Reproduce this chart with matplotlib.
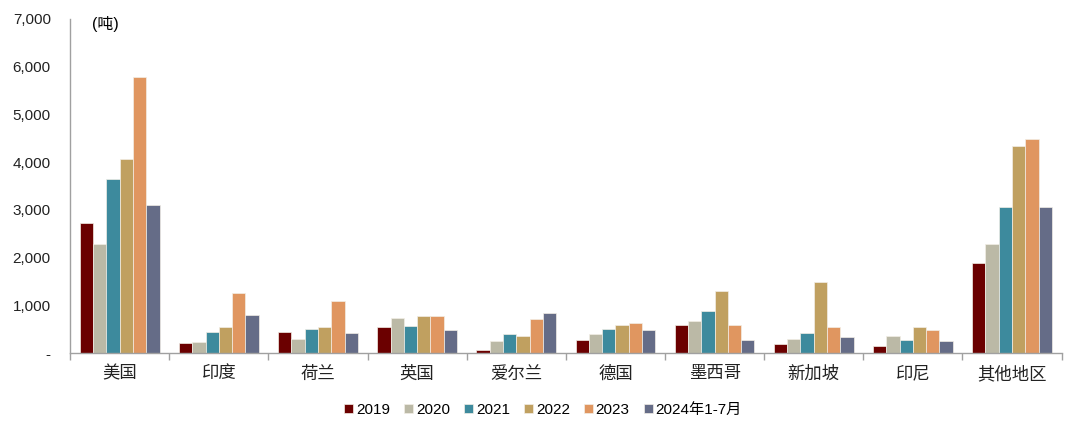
import numpy as np
import matplotlib.pyplot as plt
from matplotlib.ticker import FuncFormatter

plt.rcParams['font.family'] = ['Liberation Sans', 'Noto Sans CJK SC', 'DejaVu Sans']

# 类别与数据（吨）
regions = ['美国', '印度', '荷兰', '英国', '爱尔兰', '德国', '墨西哥', '新加坡', '印尼', '其他地区']
series_names = ['2019', '2020', '2021', '2022', '2023', '2024年1-7月']
v2019 = [2725, 210, 440, 540, 70, 266, 587, 196, 154, 1887]
v2020 = [2285, 230, 293, 734, 252, 392, 671, 293, 363, 2285]
v2021 = [3648, 440, 503, 566, 398, 510, 874, 419, 280, 3054]
v2022 = [4067, 545, 545, 776, 356, 580, 1300, 1495, 552, 4340]
v2023 = [5786, 1250, 1090, 776, 713, 636, 594, 545, 475, 4480]
v2024 = [3103, 797, 419, 476, 839, 482, 280, 329, 258, 3054]
colors = ['#6B0000', '#BBB9A6', '#3D8A9D', '#C0A060', '#E09660', '#656C87']

values = [v2019, v2020, v2021, v2022, v2023, v2024]

fig = plt.figure(figsize=(10.8, 4.28), dpi=100)
ax = fig.add_axes([0.065, 0.175, 0.918, 0.781])

x = np.arange(len(regions))
w = 0.134
for k, (name, vals) in enumerate(zip(series_names, values)):
    ax.bar(x + (k - 2.5) * w, vals, w, color=colors[k], label=name,
           edgecolor='#F2EEE6', linewidth=0.5)

ax.set_xlim(-0.5, len(regions) - 0.5)
ax.set_ylim(0, 7000)
ax.set_yticks(np.arange(0, 7001, 1000))
ax.yaxis.set_major_formatter(FuncFormatter(lambda v, p: '-' if v == 0 else f'{int(v):,}'))
ax.tick_params(axis='y', length=0, labelsize=11, pad=14, colors='#222222')

# x 轴：类别标签居中，刻度在分隔处
ax.set_xticks(x)
ax.set_xticklabels(regions, fontsize=12.5)
ax.set_xticks(np.arange(-0.5, len(regions)), minor=True)
ax.tick_params(axis='x', which='major', length=0, pad=9, colors='#222222')
ax.tick_params(axis='x', which='minor', length=5, color='#A0A0A0', width=1)

for s in ['top', 'right']:
    ax.spines[s].set_visible(False)
ax.spines['left'].set_color('#A0A0A0')
ax.spines['bottom'].set_color('#A0A0A0')
ax.spines['left'].set_linewidth(1)
ax.spines['bottom'].set_linewidth(1)

ax.text(0.022, 0.985, '(吨)', transform=ax.transAxes, fontsize=11.5, va='center', ha='left')

leg = fig.legend(loc='center', bbox_to_anchor=(0.503, 0.043), ncol=6, frameon=False,
                 fontsize=11, handlelength=0.55, handleheight=0.55, handletextpad=0.2,
                 columnspacing=0.95)

fig.savefig('out.png', dpi=100)
